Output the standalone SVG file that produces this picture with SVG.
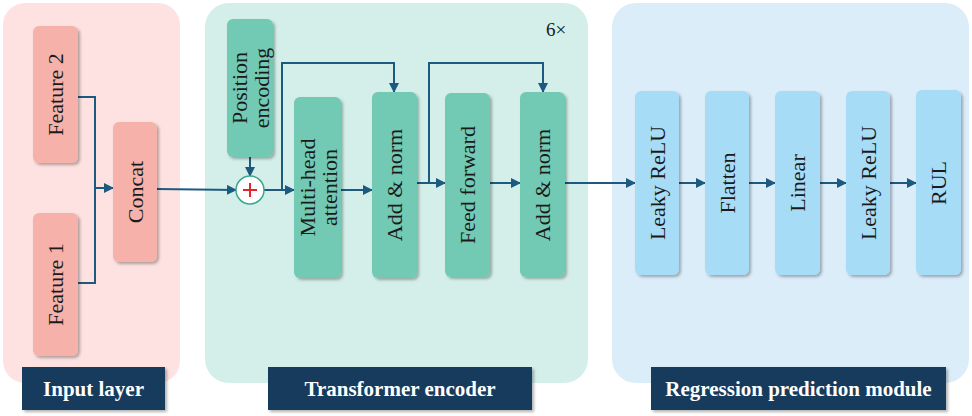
<svg xmlns="http://www.w3.org/2000/svg" width="972" height="416" viewBox="0 0 972 416">
<defs>
<filter id="sh" x="-20%" y="-20%" width="140%" height="140%"><feDropShadow dx="2" dy="2" stdDeviation="1.5" flood-color="#000" flood-opacity="0.3"/></filter>
<marker id="ah" viewBox="0 0 10 10" refX="9" refY="5" markerWidth="5" markerHeight="5" orient="auto"><path d="M0,0 L10,5 L0,10 z" fill="#1d5a80"/></marker>
<style>
.t{font-family:'Liberation Serif',serif;font-size:22px;fill:#1a1a1a;text-anchor:middle;dominant-baseline:central}
.lb{font-family:'Liberation Serif',serif;font-size:21px;font-weight:bold;fill:#fff;text-anchor:middle;dominant-baseline:central}
.pk{fill:#f5b1aa;filter:url(#sh)}
.tl{fill:#72c9b4;filter:url(#sh)}
.bl{fill:#a7dcf6;filter:url(#sh)}
.lbox{fill:#163a5c;filter:url(#sh)}
.c{fill:none;stroke:#1d5a80;stroke-width:2}
.ca{fill:none;stroke:#1d5a80;stroke-width:2;marker-end:url(#ah)}
</style>
</defs>
<rect width="972" height="416" fill="#fff"/>
<g id="panels">
<rect x="3" y="3" width="177" height="380" rx="22" fill="#fde2e1"/>
<rect x="205" y="3" width="383" height="380" rx="24" fill="#d4efe9"/>
<rect x="612" y="3" width="357" height="380" rx="24" fill="#dcedfa"/>
</g>
<g id="connectors">
<polyline class="c" points="78,97 95,97 95,283 78,283"/>
<line class="ca" x1="95" y1="188" x2="113" y2="188"/>
<line class="ca" x1="157" y1="189" x2="236" y2="190"/>
<line class="ca" x1="250" y1="157" x2="250" y2="176"/>
<line class="ca" x1="264" y1="190" x2="294" y2="190"/>
<polyline class="ca" points="282,190 282,63 394,63 394,92"/>
<line class="ca" x1="341" y1="190" x2="372" y2="190"/>
<line class="ca" x1="417" y1="183" x2="445" y2="183"/>
<polyline class="ca" points="429,183 429,63 543,63 543,92"/>
<line class="ca" x1="490" y1="183" x2="520" y2="183"/>
<line class="ca" x1="565" y1="183" x2="635" y2="183"/>
<line class="ca" x1="679" y1="183" x2="705" y2="183"/>
<line class="ca" x1="749" y1="183" x2="775" y2="183"/>
<line class="ca" x1="820" y1="183" x2="846" y2="183"/>
<line class="ca" x1="890" y1="183" x2="916" y2="183"/>
</g>
<g id="feature2"><rect class="pk" x="33" y="26" width="45" height="137" rx="6"/><text class="t" transform="translate(55.5,94.5) rotate(-90)">Feature 2</text></g>
<g id="feature1"><rect class="pk" x="33" y="213" width="45" height="143" rx="6"/><text class="t" transform="translate(55.5,284.5) rotate(-90)">Feature 1</text></g>
<g id="concat"><rect class="pk" x="113" y="122" width="44" height="140" rx="6"/><text class="t" transform="translate(135,192) rotate(-90)">Concat</text></g>
<g id="posenc"><rect class="tl" x="227" y="19" width="46" height="138" rx="6"/><text class="t" transform="translate(250,88) rotate(-90)"><tspan x="0" y="-11">Position</tspan><tspan x="0" y="11">encoding</tspan></text></g>
<g id="plus"><circle cx="250" cy="190" r="14" fill="#fff" stroke="#3aa88c" stroke-width="1.5"/><path d="M243,190 H257 M250,183 V197" stroke="#e0262b" stroke-width="2"/></g>
<g id="mha"><rect class="tl" x="294" y="97" width="47" height="181" rx="6"/><text class="t" transform="translate(317.5,187.5) rotate(-90)"><tspan x="0" y="-11">Multi-head</tspan><tspan x="0" y="11">attention</tspan></text></g>
<g id="addnorm1"><rect class="tl" x="372" y="92" width="45" height="186" rx="6"/><text class="t" transform="translate(394.5,185) rotate(-90)">Add &amp; norm</text></g>
<g id="ff"><rect class="tl" x="445" y="93" width="45" height="184" rx="6"/><text class="t" transform="translate(467.5,185) rotate(-90)">Feed forward</text></g>
<g id="addnorm2"><rect class="tl" x="520" y="92" width="45" height="185" rx="6"/><text class="t" transform="translate(542.5,185) rotate(-90)">Add &amp; norm</text></g>
<text x="556" y="29" class="t" style="font-size:19px">6×</text>
<g id="lrelu1"><rect class="bl" x="635" y="91" width="44" height="184" rx="6"/><text class="t" transform="translate(657,183) rotate(-90)">Leaky ReLU</text></g>
<g id="flatten"><rect class="bl" x="705" y="91" width="44" height="184" rx="6"/><text class="t" transform="translate(727,183) rotate(-90)">Flatten</text></g>
<g id="linear"><rect class="bl" x="775" y="91" width="45" height="184" rx="6"/><text class="t" transform="translate(797.5,183) rotate(-90)">Linear</text></g>
<g id="lrelu2"><rect class="bl" x="846" y="91" width="44" height="184" rx="6"/><text class="t" transform="translate(868,183) rotate(-90)">Leaky ReLU</text></g>
<g id="rul"><rect class="bl" x="916" y="90" width="45" height="185" rx="6"/><text class="t" transform="translate(938.5,183) rotate(-90)">RUL</text></g>
<g id="label-input"><rect class="lbox" x="22" y="367" width="143" height="43"/><text class="lb" x="93.5" y="389">Input layer</text></g>
<g id="label-transformer"><rect class="lbox" x="268" y="367" width="264" height="43"/><text class="lb" x="400" y="389">Transformer encoder</text></g>
<g id="label-regression"><rect class="lbox" x="651" y="367" width="295" height="43"/><text class="lb" x="798.5" y="389">Regression prediction module</text></g>
</svg>
